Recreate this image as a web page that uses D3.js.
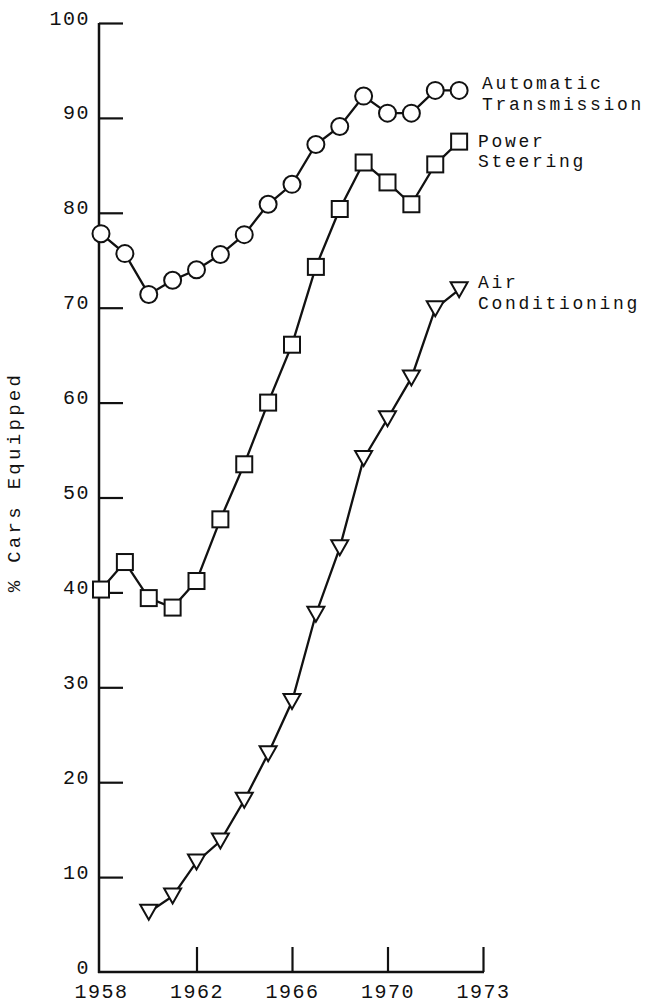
<!DOCTYPE html>
<html>
<head>
<meta charset="utf-8">
<script src="https://cdn.jsdelivr.net/npm/d3@7"></script>
<style>
  html, body { margin: 0; padding: 0; background: #fff; }
  svg { display: block; }
  text { font-family: "Liberation Mono", "DejaVu Sans Mono", monospace; fill: #111; }
</style>
</head>
<body>
<svg id="chart" width="650" height="1006"></svg>
<script>
// ---- data ----
const yearsFull = [1958,1959,1960,1961,1962,1963,1964,1965,1966,1967,1968,1969,1970,1971,1972,1973];
const yearsAC   = [1960,1961,1962,1963,1964,1965,1966,1967,1968,1969,1970,1971,1972,1973];
const automaticTransmission = [77.8,75.7,71.4,72.9,74.0,75.6,77.7,80.9,83.0,87.2,89.1,92.3,90.5,90.5,92.9,92.9];
const powerSteering         = [40.3,43.2,39.4,38.4,41.2,47.7,53.5,60.0,66.1,74.3,80.4,85.3,83.2,80.9,85.1,87.5];
const airConditioning       = [6.3,8.0,11.6,13.8,18.1,23.0,28.5,37.7,44.7,54.1,58.3,62.6,69.9,71.9];
const yTicks = [0,10,20,30,40,50,60,70,80,90,100];
const xTickValues = [1958,1962,1966,1970,1974];
const xTickLabels = ["1958","1962","1966","1970","1973"];
const seriesLabels = [["Automatic","Transmission"],["Power","Steering"],["Air","Conditioning"]];
const yTitle = "% Cars Equipped";

// ---- layout ----
const svg = d3.select("#chart");
const axisX0 = 99;
const x = d3.scaleLinear().domain([1958, 1974]).range([101, 483]);
const y = d3.scaleLinear().domain([0, 100]).range([972, 23]);
const ink = "#111";
const FS = 20, LS = 1.5;

// axis lines
svg.append("line").attr("x1", axisX0).attr("x2", axisX0).attr("y1", y(0)+1).attr("y2", y(100))
  .attr("stroke", ink).attr("stroke-width", 2.5);
svg.append("line").attr("x1", axisX0-1).attr("x2", x(1974)+1).attr("y1", y(0)).attr("y2", y(0))
  .attr("stroke", ink).attr("stroke-width", 2.5);

// y axis ticks + labels
const yAxis = d3.axisLeft(y).tickValues(yTicks).tickSizeInner(-24).tickSizeOuter(0).tickPadding(9)
  .tickFormat(d3.format("d"));
const gy = svg.append("g").attr("transform", `translate(${axisX0},0)`).call(yAxis);
gy.select(".domain").remove();
gy.selectAll(".tick line").attr("stroke", ink).attr("stroke-width", 2.2)
  .filter(d => d === 0).remove();
gy.selectAll(".tick text").attr("font-size", FS).attr("letter-spacing", LS).attr("dy", "0.05em")
  .attr("font-family", "Liberation Mono, monospace").attr("fill", ink);

// x axis ticks + labels
const xAxis = d3.axisBottom(x).tickValues(xTickValues).tickSizeInner(-25).tickSizeOuter(0).tickPadding(12)
  .tickFormat((d, i) => xTickLabels[i]);
const gx = svg.append("g").attr("transform", `translate(0,${y(0)})`).call(xAxis);
gx.select(".domain").remove();
gx.selectAll(".tick line").attr("stroke", ink).attr("stroke-width", 2.2)
  .filter(d => d === 1958).remove();
gx.selectAll(".tick text").attr("font-size", FS).attr("letter-spacing", LS)
  .attr("font-family", "Liberation Mono, monospace").attr("fill", ink);

// y title
svg.append("text")
  .attr("transform", `translate(20,${482}) rotate(-90)`)
  .attr("text-anchor", "middle")
  .attr("font-size", 19).attr("letter-spacing", 3.3)
  .text(yTitle);

// lines
const line = d3.line().x(d => x(d[0])).y(d => y(d[1]));
const seriesData = [
  { pts: yearsFull.map((yr, i) => [yr, automaticTransmission[i]]), shape: "circle" },
  { pts: yearsFull.map((yr, i) => [yr, powerSteering[i]]), shape: "square" },
  { pts: yearsAC.map((yr, i) => [yr, airConditioning[i]]), shape: "triangle" }
];

seriesData.forEach(s => {
  svg.append("path").datum(s.pts).attr("d", line)
    .attr("fill", "none").attr("stroke", ink).attr("stroke-width", 2.3);
});

seriesData.forEach(s => {
  const g = svg.append("g");
  s.pts.forEach(p => {
    const cx = x(p[0]), cy = y(p[1]);
    if (s.shape === "circle") {
      g.append("circle").attr("cx", cx).attr("cy", cy).attr("r", 8.5)
        .attr("fill", "#fff").attr("stroke", ink).attr("stroke-width", 2);
    } else if (s.shape === "square") {
      g.append("rect").attr("x", cx - 8).attr("y", cy - 8).attr("width", 16).attr("height", 16)
        .attr("fill", "#fff").attr("stroke", ink).attr("stroke-width", 2);
    } else {
      const w = 17, h = 15;
      g.append("path")
        .attr("d", `M${cx - w/2},${cy - h/2}L${cx + w/2},${cy - h/2}L${cx},${cy + h/2}Z`)
        .attr("fill", "#fff").attr("stroke", ink).attr("stroke-width", 2).attr("stroke-linejoin", "miter");
    }
  });
});

// series labels (slightly smaller type, spaced so the two lines do not collide)
const LFS = 18, LLS = 2.7;
const labelPos = [
  { x: 482, y: [89, 109.5] },
  { x: 478, y: [146.5, 167] },
  { x: 478, y: [288, 308.5] }
];
seriesLabels.forEach((lines, i) => {
  lines.forEach((t, j) => {
    svg.append("text").attr("x", labelPos[i].x).attr("y", labelPos[i].y[j])
      .attr("font-size", LFS).attr("letter-spacing", LLS).text(t);
  });
});
</script>
</body>
</html>
